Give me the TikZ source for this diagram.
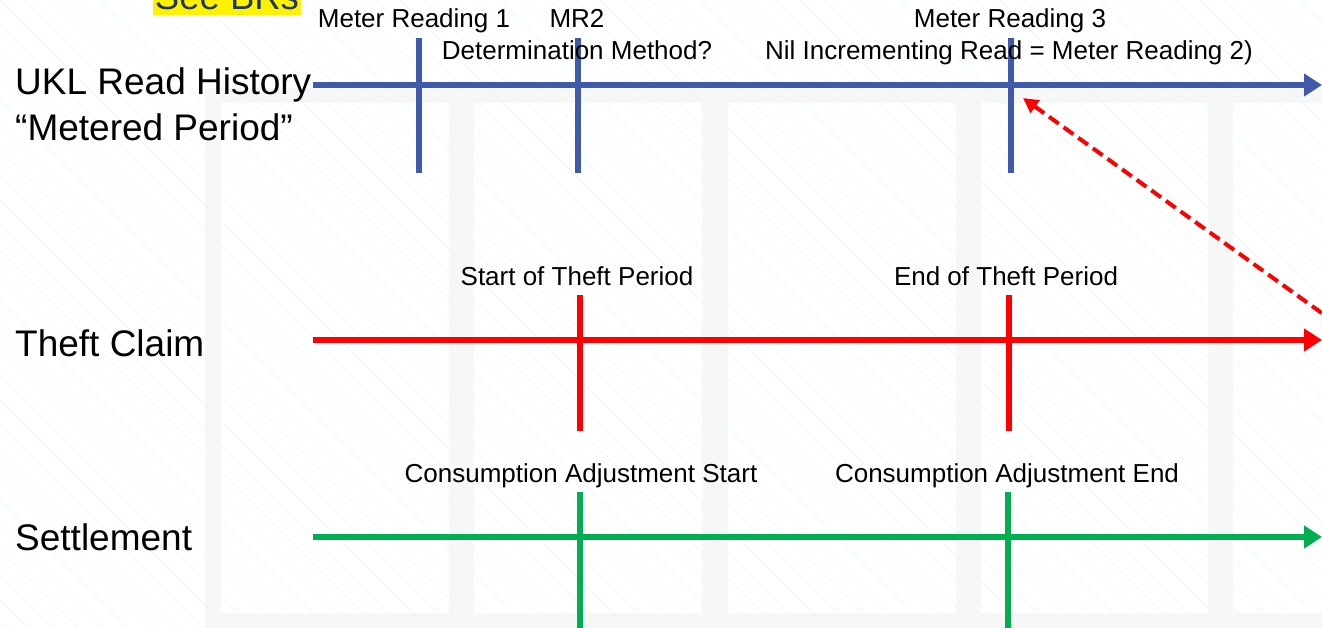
\documentclass[tikz,border=0pt]{standalone}
\usepackage{fontspec}
\setmainfont{Liberation Sans}
\usetikzlibrary{arrows.meta}
\definecolor{ukblue}{RGB}{63,90,168}
\definecolor{tred}{RGB}{255,0,0}
\definecolor{sgreen}{RGB}{0,176,80}
\definecolor{navy}{RGB}{31,56,100}
\definecolor{hatchc}{RGB}{232,247,247}
\definecolor{bandc}{RGB}{247,247,248}
\tikzset{
  axisline/.style={line width=6pt, -{Triangle[length=18pt,width=22pt]}},
  tickline/.style={line width=6pt},
  small/.style={font=\fontsize{26}{30}\selectfont, anchor=base, inner sep=0pt},
  big/.style={font=\fontsize{37}{44}\selectfont, anchor=base west, inner sep=0pt},
  hatch/.style={draw=hatchc, line width=0.6pt}
}
\begin{document}
\begin{tikzpicture}[x=1pt,y=-1pt]
\useasboundingbox (0,0) rectangle (1322,628);
\fill[white] (0,0) rectangle (1322,628);
% background band and panels
\fill[bandc] (205,88) rectangle (1322,628);
\foreach \a/\b in {221/449,474/702,728/956,981/1208,1233/1330}
  \fill[white] (\a,103) rectangle (\b,613);
% faint hatch
\begin{scope}
\clip (0,0) rectangle (1322,628);
\foreach \i in {-650,-625,...,1322}
  \draw[hatch] (\i,0) -- ++(700,700);
\end{scope}

% See BRs
\fill[yellow] (153,-5) rectangle (301,15.5);
\node[anchor=base, inner sep=0pt, font=\fontsize{36.5}{40}\selectfont, text=navy] (brs) at (227,10) {See BRs};

% Left labels
\node[big] (ukl) at (15,95) {UKL Read History};
\node[big] (met) at (15,141) {“Metered Period”};
\node[big] (theft) at (15,356) {Theft Claim};
\node[big] (sett) at (15,550) {Settlement};

% coordinates
\coordinate (bA) at (313,85);  \coordinate (bB) at (1322,85);
\coordinate (rA) at (313,340); \coordinate (rB) at (1322,340);
\coordinate (gA) at (313,537); \coordinate (gB) at (1322,537);

% blue timeline
\draw[ukblue, axisline] (bA) -- (bB);
\coordinate (b1t) at (419,38);  \coordinate (b1b) at (419,173);
\coordinate (b2t) at (578,38);  \coordinate (b2b) at (578,173);
\coordinate (b3t) at (1011,38); \coordinate (b3b) at (1011,173);
\draw[ukblue, tickline] (b1t) -- (b1b);
\draw[ukblue, tickline] (b2t) -- (b2b);
\draw[ukblue, tickline] (b3t) -- (b3b);
\node[small] (mr1) at (414,28) {Meter Reading 1};
\node[small] (mr2) at (577,28) {MR2};
\node[small] (mr3) at (1010,28) {Meter Reading 3};
\node[small] (dm) at (577,60) {Determination Method?};
\node[small] (nil) at (1009,60) {Nil Incrementing Read = Meter Reading 2)};

% red timeline
\draw[tred, axisline] (rA) -- (rB);
\coordinate (r1t) at (580,295);  \coordinate (r1b) at (580,431);
\coordinate (r2t) at (1009,295); \coordinate (r2b) at (1009,431);
\draw[tred, tickline] (r1t) -- (r1b);
\draw[tred, tickline] (r2t) -- (r2b);
\node[small] (sot) at (577,286) {Start of Theft Period};
\node[small] (eot) at (1006,286) {End of Theft Period};

% green timeline
\draw[sgreen, axisline] (gA) -- (gB);
\coordinate (g1t) at (580,492);  \coordinate (g1b) at (580,635);
\coordinate (g2t) at (1008,492); \coordinate (g2b) at (1008,635);
\draw[sgreen, tickline] (g1t) -- (g1b);
\draw[sgreen, tickline] (g2t) -- (g2b);
\node[small] (cas) at (581,482) {Consumption Adjustment Start};
\node[small] (cae) at (1007,482) {Consumption Adjustment End};

% red dashed arrow
\coordinate (dS) at (1330,319);
\coordinate (dE) at (1023,98);
\draw[tred, line width=4pt, dash pattern=on 12pt off 6pt, {Triangle[length=15pt,width=15pt]}-] (dE) -- (dS);
\end{tikzpicture}
\end{document}
